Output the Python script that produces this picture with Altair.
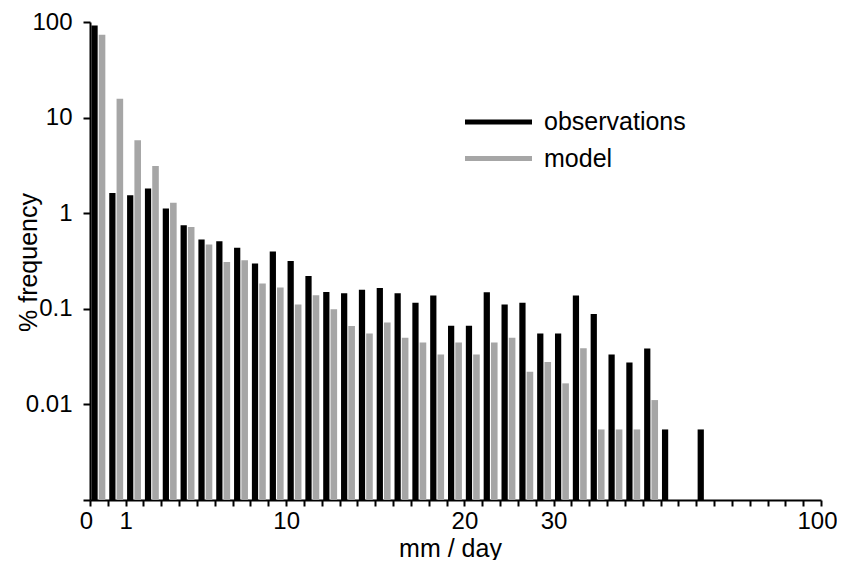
import altair as alt
import pandas as pd

# ---- data ----
series_names = ["observations", "model"]
series_colors = ["#000000", "#a6a6a6"]

# % frequency per bin (bin index 0..34); None = no bar
obs = [91.9, 1.63, 1.54, 1.81, 1.12, 0.748, 0.530, 0.508, 0.434, 0.297,
       0.397, 0.317, 0.221, 0.150, 0.145, 0.158, 0.165, 0.145, 0.116, 0.138,
       0.0664, 0.0664, 0.149, 0.111, 0.116, 0.0553, 0.0553, 0.138, 0.088, 0.0333,
       0.0275, 0.0385, 0.00547, None, 0.00547]
model = [73.5, 15.7, 5.78, 3.11, 1.29, 0.718, 0.470, 0.309, 0.322, 0.184,
         0.167, 0.111, 0.139, 0.099, 0.066, 0.055, 0.072, 0.0497, 0.0445, 0.0333,
         0.0445, 0.0333, 0.0445, 0.0497, 0.0219, 0.0277, 0.0166, 0.0387, 0.00547, 0.00547,
         0.00547, 0.0111]

x_tick_pos = [0, 2, 11, 21, 26, 41]
x_tick_lab = ["0", "1", "10", "20", "30", "100"]
n_bins = 41

y_tick_vals = [0.001, 0.01, 0.1, 1, 10, 100]
y_tick_lab = ["", "0.01", "0.1", "1", "10", "100"]

FONT = "Liberation Sans"

# ---- build table ----
offsets = {"observations": (0.08, 0.43), "model": (0.49, 0.86)}
rows = []
for name, vals in zip(series_names, [obs, model]):
    for i, v in enumerate(vals):
        if v is None:
            continue
        a, b = offsets[name]
        rows.append({"bin": i, "series": name, "value": v, "x0": i + a, "x1": i + b})
df = pd.DataFrame(rows)


def label_expr(vals, labs, tol):
    expr = "''"
    for v, l in reversed(list(zip(vals, labs))):
        expr = f"abs(datum.value - {v}) < {tol} ? '{l}' : ({expr})"
    return expr


def ylabel_expr(vals, labs):
    expr = "''"
    for v, l in reversed(list(zip(vals, labs))):
        expr = f"abs(datum.value / {v} - 1) < 0.01 ? '{l}' : ({expr})"
    return expr


x_axis = alt.Axis(
    values=list(range(n_bins + 1)),
    labelExpr=label_expr(x_tick_pos, x_tick_lab, 0.01),
    labelOverlap=False,
    labelFlush=False,
    labelOffset={"condition": {"test": f"datum.value == 0 || datum.value == {n_bins}", "value": -4}, "value": 0},
    grid=False,
    tickSize=6,
    tickWidth=2,
    tickColor="black",
    domainColor="black",
    domainWidth=2,
    labelFont=FONT,
    labelFontSize=24,
    labelColor="black",
    labelPadding=3,
    title="mm / day",
    titleFont=FONT,
    titleFontSize=25,
    titleFontWeight="normal",
    titleColor="black",
    titleX=360,
    titleY=56,
    titleBaseline="alphabetic",
    titleAlign="center",
)

y_axis = alt.Axis(
    values=y_tick_vals,
    labelExpr=ylabel_expr(y_tick_vals, y_tick_lab),
    labelOverlap=False,
    labelFlush=False,
    grid=False,
    tickSize=7,
    tickWidth=2,
    tickColor="black",
    domainColor="black",
    domainWidth=2,
    labelFont=FONT,
    labelFontSize=24,
    labelColor="black",
    labelPadding=11,
    title="% frequency",
    titleFont=FONT,
    titleFontSize=25,
    titleFontWeight="normal",
    titleColor="black",
    titleAngle=270,
    titleX=-54,
    titleY=240,
    titleBaseline="alphabetic",
    titleAlign="center",
)

bars = alt.Chart(df).mark_bar().encode(
    x=alt.X("x0:Q", scale=alt.Scale(domain=[0, n_bins], nice=False, zero=False), axis=x_axis),
    x2="x1:Q",
    y=alt.Y("value:Q", scale=alt.Scale(type="log", domain=[0.001, 100], nice=False), axis=y_axis),
    y2=alt.datum(0.001),
    color=alt.Color("series:N", scale=alt.Scale(domain=series_names, range=series_colors), legend=None),
)

# ---- manual legend (line + text) ----
leg_layers = []
for i, (name, col) in enumerate(zip(series_names, series_colors)):
    ly = 100 + i * 36.5
    d = pd.DataFrame({"label": [name]})
    leg_layers.append(
        alt.Chart(d).mark_rule(color=col, strokeWidth=5).encode(
            x=alt.value(375), x2=alt.value(442), y=alt.value(ly)
        )
    )
    leg_layers.append(
        alt.Chart(d).mark_text(
            align="left", baseline="alphabetic", font=FONT, fontSize=25, color="black"
        ).encode(x=alt.value(454), y=alt.value(ly + 8), text="label:N")
    )

chart = alt.layer(bars, *leg_layers).properties(
    width=731,
    height=478,
    padding={"left": 82, "top": 14, "right": 16, "bottom": 60},
    autosize=alt.AutoSizeParams(type="none"),
    background="white",
).configure_view(stroke=None)

chart.save("out.html", embed_options={"renderer": "svg", "actions": False})
